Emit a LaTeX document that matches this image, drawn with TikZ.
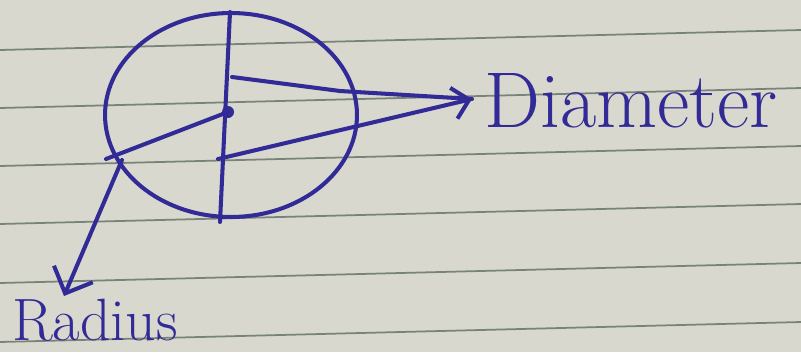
\documentclass[tikz,border=0pt]{standalone}
\usetikzlibrary{arrows.meta,shapes.geometric}
\definecolor{inkcolor}{RGB}{50,42,150}
\definecolor{papercolor}{RGB}{216,216,206}
\definecolor{rulecolor}{RGB}{120,132,122}
\tikzset{
  ink/.style={draw=inkcolor, line width=2.3pt, line cap=round, line join=round},
  handlabel/.style={text=inkcolor, inner sep=0pt},
  barbtip/.style={-{Straight Barb[length=#1, width=2*#1, line width=2.3pt]}},
}
\newcommand{\ruleline}[1]{\draw[rulecolor, line width=1pt] (0,#1) -- (801,{#1-20});}

\begin{document}
\begin{tikzpicture}[x=0.02cm, y=-0.02cm]
  \fill[papercolor] (0,0) rectangle (801,352);
  \useasboundingbox (0,0) rectangle (801,352);
  \foreach \ry in {50,108,166,224,283,342} {\ruleline{\ry}}

  \node[ink, ellipse, minimum width=5.04cm, minimum height=4.08cm, inner sep=0pt] (circ) at (231,115) {};
  \coordinate (top) at (230,12);
  \coordinate (bottom) at (220,222);
  \coordinate (mid) at (228,112);
  \coordinate (rim) at (106,159);
  \coordinate (upper) at (232,77);
  \coordinate (lower) at (218,159);
  \coordinate (tip) at (472,99);
  \coordinate (rstart) at (122,160);

  \draw[ink] (top) -- (bottom);
  \fill[inkcolor] (mid) circle (6);
  \draw[ink] (mid) -- (rim);
  \draw[ink] (upper) -- (340,91) -- (tip);
  \draw[ink, barbtip=9pt] (lower) -- (tip);

  \node[handlabel, anchor=west, font=\fontsize{45}{50}\selectfont] (diam) at (484,101) {Diameter};
  \node[handlabel, anchor=west, font=\fontsize{34}{38}\selectfont] (rad) at (12,320) {Radius};
  \coordinate (rtip) at (64,296);
  \draw[ink, barbtip=12pt] (rstart) -- (rtip);
\end{tikzpicture}
\end{document}
